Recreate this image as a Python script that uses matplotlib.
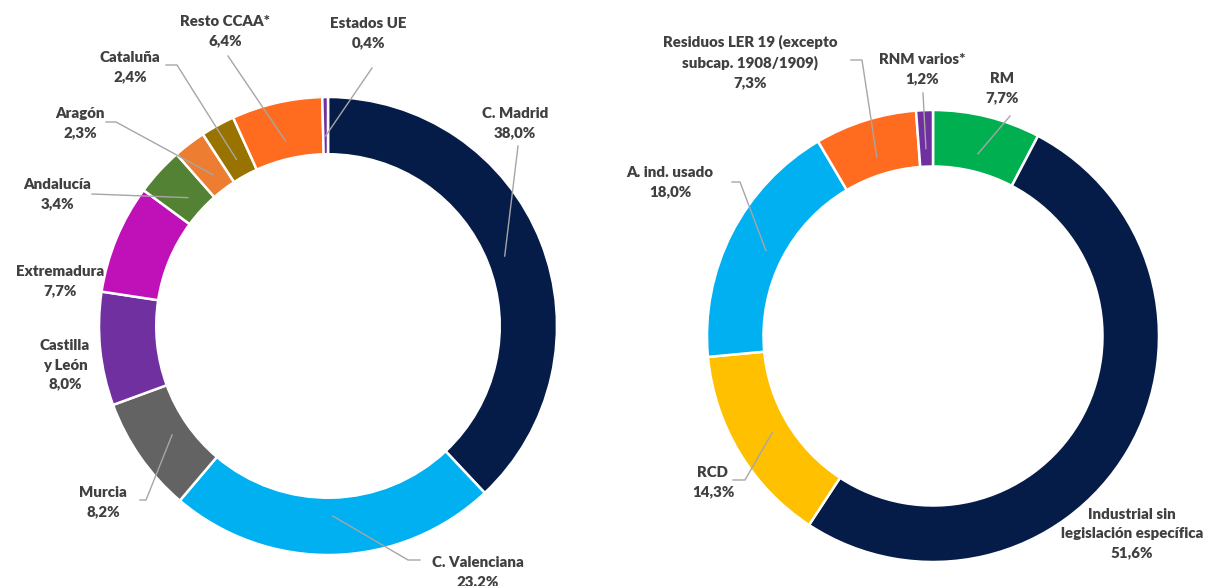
import numpy as np
import matplotlib
matplotlib.use("Agg")
import matplotlib.pyplot as plt

# left donut: origin by region
reg_labels = ['C. Madrid', 'C. Valenciana', 'Murcia', 'Castilla\ny León', 'Extremadura',
              'Andalucía', 'Aragón', 'Cataluña', 'Resto CCAA*', 'Estados UE']
reg_values = [38.0, 23.2, 8.2, 8.0, 7.7, 3.4, 2.3, 2.4, 6.4, 0.4]
reg_colors = ['#061c48', '#00b0f0', '#636363', '#7030a0', '#c010b8',
              '#548235', '#ed7d31', '#997300', '#ff6b1f', '#7030a0']

# right donut: type of waste
typ_labels = ['RM', 'Industrial sin\nlegislación específica', 'RCD', 'A. ind. usado',
              'Residuos LER 19 (excepto\nsubcap. 1908/1909)', 'RNM varios*']
typ_values = [7.7, 51.6, 14.3, 18.0, 7.3, 1.2]
typ_colors = ['#00b050', '#061c48', '#ffc000', '#00b0f0', '#ff6b1f', '#7030a0']

W, H = 1209, 586
fig = plt.figure(figsize=(W / 100, H / 100), dpi=100)
ax = fig.add_axes([0, 0, 1, 1])

txt_col = '#404040'
line_col = '#a6a6a6'


def fmt(v):
    return f'{v:.1f}%'.replace('.', ',')


def donut(values, colors, labels, cx, cy, r, layout):
    wedges, _ = ax.pie(values, colors=colors, startangle=90, counterclock=False,
                       center=(cx, H - cy), radius=r,
                       wedgeprops=dict(width=r * 0.25, edgecolor='white', linewidth=1.8))
    for w, lab, v, lay in zip(wedges, labels, values, layout):
        tx, ty, pts = lay
        ax.text(tx, H - ty, lab + '\n' + fmt(v), ha='center', va='center',
                fontsize=10.8, fontweight='heavy', color=txt_col,
                family=['Lato', 'DejaVu Sans'], linespacing=1.55)
        if pts is None:
            continue
        a = np.deg2rad((w.theta1 + w.theta2) / 2)
        rr = r * 0.83
        px = cx + rr * np.cos(a)
        py = H - cy + rr * np.sin(a)
        xs = [p[0] for p in pts] + [px]
        ys = [H - p[1] for p in pts] + [py]
        ax.plot(xs, ys, color=line_col, lw=1)


# text centre (pixels from top-left) and leader line start/elbow points
reg_layout = [
    (515, 123, [(518, 146)]),
    (478, 572, [(420, 560), (408, 560)]),
    (103, 502, [(140, 500), (146, 500)]),
    (65, 365, None),
    (60, 281, None),
    (57, 194, [(92, 194)]),
    (80, 123, [(106, 122), (116, 122)]),
    (130, 67, [(166, 65), (177, 65)]),
    (225, 31, [(228, 56)]),
    (368, 33, [(372, 68)]),
]
typ_layout = [
    (1002, 88, [(1010, 116)]),
    (1132, 534, None),
    (713, 482, [(733, 480), (745, 480)]),
    (670, 182, [(732, 182), (740, 182)]),
    (750, 62, [(851, 60), (862, 60)]),
    (922, 69, [(923, 93)]),
]

donut(reg_values, reg_colors, reg_labels, 328, 326, 229, reg_layout)
donut(typ_values, typ_colors, typ_labels, 933, 336, 226, typ_layout)

ax.set_xlim(0, W)
ax.set_ylim(0, H)
ax.set_aspect('auto')
ax.axis('off')

fig.savefig('out.png', dpi=100, facecolor='white')
